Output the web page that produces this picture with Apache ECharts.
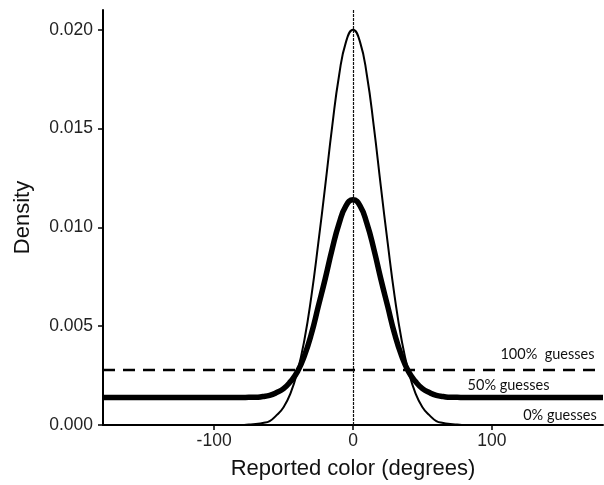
<!DOCTYPE html>
<html>
<head>
<meta charset="utf-8">
<script src="https://cdn.jsdelivr.net/npm/echarts@6/dist/echarts.min.js"></script>
<style>
  html, body { margin: 0; padding: 0; background: #fff; }
  #main { width: 604px; height: 485px; }
</style>
</head>
<body>
<div id="main"></div>
<script>
// degrees along the x axis
var xs = [-180, -150, -120, -100, -90, -85, -80, -75, -70, -65, -60, -55, -50, -45, -40, -35, -30, -25, -20, -15, -10, -5, 0,
  5, 10, 15, 20, 25, 30, 35, 40, 45, 50, 55, 60, 65, 70, 75, 80, 85, 90, 100, 120, 150, 180];
// 0% guesses (thin line)
var noGuess = [0, 0, 0, 0, 0, 0, 0, 0.00002, 0.00005, 0.0001, 0.0002, 0.0005, 0.0009, 0.0016, 0.0027, 0.0043, 0.0065, 0.0092, 0.0121, 0.0151, 0.0177, 0.0194, 0.0200,
  0.0194, 0.0177, 0.0151, 0.0121, 0.0092, 0.0065, 0.0043, 0.0027, 0.0016, 0.0009, 0.0005, 0.0002, 0.0001, 0.00005, 0.00002, 0, 0, 0, 0, 0, 0, 0];
// 50% guesses (thick line)
var halfGuess = [0.00139, 0.00139, 0.00139, 0.00139, 0.00139, 0.00139, 0.00139, 0.0014, 0.0014, 0.00144, 0.0015, 0.00164, 0.00184, 0.0022, 0.0027, 0.0035, 0.0046, 0.006, 0.0074, 0.0089, 0.0102, 0.0111, 0.0114,
  0.0111, 0.0102, 0.0089, 0.0074, 0.006, 0.0046, 0.0035, 0.0027, 0.0022, 0.00184, 0.00164, 0.0015, 0.00144, 0.0014, 0.0014, 0.00139, 0.00139, 0.00139, 0.00139, 0.00139, 0.00139, 0.00139];
// 100% guesses (dashed, uniform)
var allGuessX = [-180, 180];
var allGuess = [0.00278, 0.00278];

var xTicks = [-100, 0, 100];
var yTicks = [0, 0.005, 0.010, 0.015, 0.020];

function pairs(a, b) {
  return a.map(function (v, i) { return [v, b[i]]; });
}

var myChart = echarts.init(document.getElementById('main'));
var labelFont = { fontFamily: 'Lato', fontSize: 14.5, color: '#111' };
const option = {
  animation: false,
  grid: { left: 103, right: 1, top: 10, bottom: 57 },
  xAxis: {
    type: 'value',
    min: -180,
    max: 180,
    name: 'Reported color (degrees)',
    nameLocation: 'middle',
    nameGap: 33,
    nameTextStyle: { fontFamily: 'Liberation Sans', fontSize: 22, color: '#111' },
    axisLine: { show: true, onZero: false, lineStyle: { color: '#000', width: 2 } },
    axisTick: { show: true, length: 5, customValues: xTicks, lineStyle: { color: '#000', width: 1.5 } },
    axisLabel: { customValues: xTicks, fontFamily: 'Liberation Sans', fontSize: 17.5, color: '#222', margin: 7 },
    splitLine: { show: false }
  },
  yAxis: {
    type: 'value',
    min: 0,
    max: 0.021,
    name: 'Density',
    nameLocation: 'middle',
    nameGap: 69,
    nameRotate: 90,
    nameTextStyle: { fontFamily: 'Liberation Sans', fontSize: 22, color: '#111' },
    axisLine: { show: true, onZero: false, lineStyle: { color: '#000', width: 2 } },
    axisTick: { show: true, length: 5, customValues: yTicks, lineStyle: { color: '#000', width: 1.5 } },
    axisLabel: {
      customValues: yTicks, fontFamily: 'Liberation Sans', fontSize: 17.5, color: '#222', margin: 10,
      formatter: function (v) { return v.toFixed(3); }
    },
    splitLine: { show: false }
  },
  series: [
    {
      name: '0% guesses',
      type: 'line',
      data: pairs(xs, noGuess),
      smooth: true,
      showSymbol: false,
      lineStyle: { color: '#000', width: 2 },
      markLine: {
        silent: true,
        symbol: 'none',
        label: { show: false },
        lineStyle: { color: '#111', width: 1.2, type: [3, 1] },
        data: [{ xAxis: 0 }]
      },
      markPoint: {
        symbolSize: 0,
        label: Object.assign({ show: true, position: 'inside', formatter: '0% guesses' }, labelFont),
        data: [{ coord: [149, 0.00048] }]
      }
    },
    {
      name: '50% guesses',
      type: 'line',
      data: pairs(xs, halfGuess),
      smooth: true,
      showSymbol: false,
      lineStyle: { color: '#000', width: 5.5 },
      markPoint: {
        symbolSize: 0,
        label: Object.assign({ show: true, position: 'inside', formatter: '50% guesses' }, labelFont),
        data: [{ coord: [112, 0.0020] }]
      }
    },
    {
      name: '100% guesses',
      type: 'line',
      data: pairs(allGuessX, allGuess),
      showSymbol: false,
      lineStyle: { color: '#000', width: 2.5, type: [12, 8] },
      markPoint: {
        symbolSize: 0,
        label: Object.assign({ show: true, position: 'inside', formatter: '100%  guesses' }, labelFont),
        data: [{ coord: [140, 0.00356] }]
      }
    }
  ]
};

myChart.setOption(option);
window.addEventListener('resize', () => {
  myChart.resize();
});
</script>
</body>
</html>
